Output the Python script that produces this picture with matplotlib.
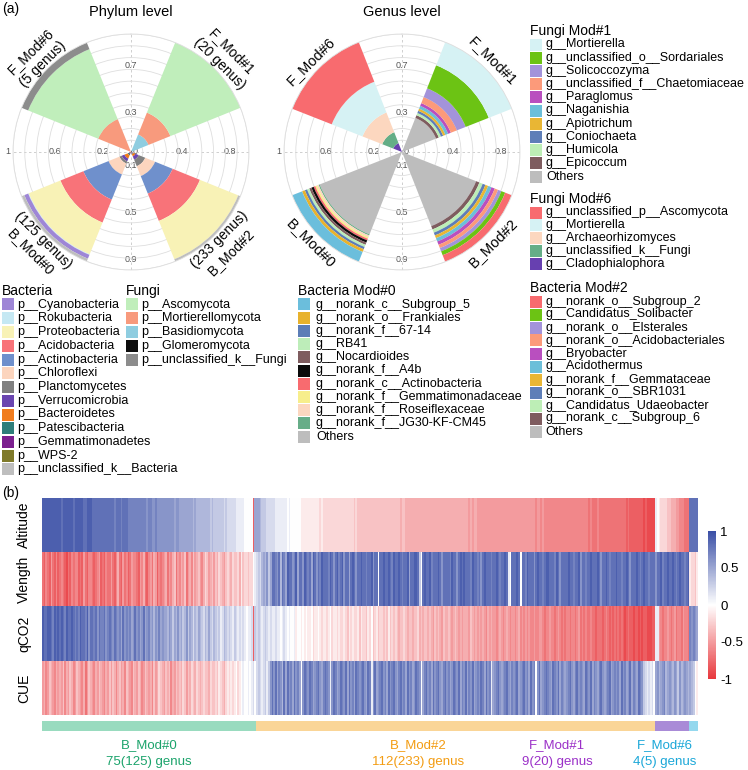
import numpy as np
import matplotlib
matplotlib.use("Agg")
import matplotlib.pyplot as plt
from matplotlib.patches import Rectangle
from matplotlib.colors import LinearSegmentedColormap

plt.rcParams["font.family"] = ["Liberation Sans", "DejaVu Sans"]

# ---------------- data: rose charts ----------------
modules = ["B_Mod#0", "B_Mod#2", "F_Mod#1", "F_Mod#6"]
module_angles = [225, 135, 45, 315]
module_genus = [125, 233, 20, 5]
module_kept = [75, 112, 9, 4]

# phylum proportions per module (B_Mod#0, B_Mod#2, F_Mod#1, F_Mod#6), legend order
bac_phyla = ["p__Cyanobacteria", "p__Rokubacteria", "p__Proteobacteria", "p__Acidobacteria",
             "p__Actinobacteria", "p__Chloroflexi", "p__Planctomycetes", "p__Verrucomicrobia",
             "p__Bacteroidetes", "p__Patescibacteria", "p__Gemmatimonadetes", "p__WPS-2",
             "p__unclassified_k__Bacteria"]
bac_colors = ["#9E86D6", "#C5E8F3", "#F8F2B6", "#F87379", "#6F90CC", "#FCD5BE", "#808080",
              "#6A45B0", "#F07C1E", "#2E7E7A", "#7B1F8F", "#7F7A2A", "#BEBEBE"]
bac_values = [
    [0.035, 0.0, 0, 0],
    [0.005, 0.0, 0, 0],
    [0.29, 0.35, 0, 0],
    [0.21, 0.25, 0, 0],
    [0.23, 0.16, 0, 0],
    [0.10, 0.09, 0, 0],
    [0.02, 0.06, 0, 0],
    [0.025, 0.03, 0, 0],
    [0.03, 0.02, 0, 0],
    [0.01, 0.005, 0, 0],
    [0.01, 0.01, 0, 0],
    [0.01, 0.005, 0, 0],
    [0.025, 0.02, 0, 0],
]
fun_phyla = ["p__Ascomycota", "p__Mortierellomycota", "p__Basidiomycota", "p__Glomeromycota",
             "p__unclassified_k__Fungi"]
fun_colors = ["#C0EEBB", "#F89A7D", "#8FCDE0", "#0D0D0D", "#8C8C8C"]
fun_values = [
    [0, 0, 0.64, 0.64],
    [0, 0, 0.20, 0.30],
    [0, 0, 0.15, 0.0],
    [0, 0, 0.01, 0.0],
    [0, 0, 0.0, 0.06],
]

# genus level (legend order, first = outermost)
f1_genus = ["g__Mortierella", "g__unclassified_o__Sordariales", "g__Solicoccozyma",
            "g__unclassified_f__Chaetomiaceae", "g__Paraglomus", "g__Naganishia",
            "g__Apiotrichum", "g__Coniochaeta", "g__Humicola", "g__Epicoccum", "Others"]
f1_colors = ["#D6F2F4", "#6CC314", "#A393DA", "#FC9A7A", "#B94FBF", "#6CBFD9", "#E9B634",
             "#5E7EB8", "#BDEEB6", "#7E5C5F", "#BDBDBD"]
f1_values = [0.21, 0.21, 0.08, 0.055, 0.025, 0.025, 0.02, 0.02, 0.02, 0.025, 0.31]

f6_genus = ["g__unclassified_p__Ascomycota", "g__Mortierella", "g__Archaeorhizomyces",
            "g__unclassified_k__Fungi", "g__Cladophialophora"]
f6_colors = ["#F86B6F", "#D6F2F4", "#FCD7BF", "#65AE87", "#6740B0"]
f6_values = [0.36, 0.28, 0.18, 0.10, 0.08]

b0_genus = ["g__norank_c__Subgroup_5", "g__norank_o__Frankiales", "g__norank_f__67-14",
            "g__RB41", "g__Nocardioides", "g__norank_f__A4b", "g__norank_c__Actinobacteria",
            "g__norank_f__Gemmatimonadaceae", "g__norank_f__Roseiflexaceae",
            "g__norank_f__JG30-KF-CM45", "Others"]
b0_colors = ["#6BBEDC", "#E8B22C", "#5C7DB7", "#BDEDB9", "#7E5C5F", "#0B0B0B", "#F86B6F",
             "#F7EE8C", "#FCD7C0", "#67AD88", "#BDBDBD"]
b0_values = [0.09, 0.025, 0.02, 0.02, 0.02, 0.02, 0.015, 0.015, 0.015, 0.01, 0.75]

b2_genus = ["g__norank_o__Subgroup_2", "g__Candidatus_Solibacter", "g__norank_o__Elsterales",
            "g__norank_o__Acidobacteriales", "g__Bryobacter", "g__Acidothermus",
            "g__norank_f__Gemmataceae", "g__norank_o__SBR1031", "g__Candidatus_Udaeobacter",
            "g__norank_c__Subgroup_6", "Others"]
b2_colors = ["#F86B6F", "#6CC314", "#A393DA", "#FC9A7A", "#B94FBF", "#6CBFD9", "#E9B634",
             "#5E7EB8", "#BDEEB6", "#7E5C5F", "#BDBDBD"]
b2_values = [0.06, 0.035, 0.03, 0.03, 0.03, 0.03, 0.025, 0.025, 0.03, 0.03, 0.675]

# ---------------- data: heatmap (one letter per genus, a=-1.0 ... k=0 ... u=+1.0) ----------------
heat_rows = ["Altitude", "Vlength", "qCO2", "CUE"]
alt_b0 = ("tttttttttt tsttttttst ttttssttts ssssssssss ssrsssrsss "
          "rrrrrrrrrr rqrrqqrqqq qqqqqqqpqq ppppppppop oooooooono "
          "nnnnnnmnmm mmmlllllkk kkkcp")
alt_b2 = ("pponnnmmmm mlllllllkl kkkkkkjjjj jjjjjjjiji iiiiiiiiii "
          "iiiiiiihih hhhhhhhhhh hhhhhhhhhh hhhhghhggg gggggggggg "
          "gggggggggg gggggggggg ggggfgfggf ffffffffff ffffffffff "
          "ffffffffff fffeffefee eeeeeeeeee eeeeeeeeee eeeededdde "
          "dddddddddd ddddddcdcc ccccccbcbb bbb")
alt_f1 = "lkjiiiihhg ggffeeeddd"
alt_f6 = "sssss"
vl_b0 = ("dcedcfdcec dedcbdcede ecdcfdceed cdefcdcedd fdcegdcfde "
         "cdfeedcfeg dcefdgfced efgdfeghdf egfhdfgehf ghfegihfgh "
         "fhgihgfhih gihhigjhii hiikl")
vl_b2 = ("mnmopoqnps srqsosrpts sqrtpssqts rsptsqsrts ssrtsqstrs "
         "tqsspstsqs stssrsstqs sksstsstsr tsstsrsstp ssttsnksts "
         "strssstsqs sssrtssqst stsssrtssr sqstsssrss tsrsstslks "
         "sstskssrts ssqstssrst tsssrtsqss sstssrsstq ssrsstssst "
         "sqsstsrsss tssrsstsqs sstsrstssr sss")
vl_f1 = "qsstrsstss tsrstssrst"
vl_f6 = "jiihj"
q_b0 = ("tssttsrtst stsrtsstsr srtssrtqss rsqsrrsqrs rqsrqrpsqr "
        "qrpqsqrpqs pqrpqoqprp qppoqpnpoq opnoqnpomo nponmonpnm "
        "onmnlmonmn mlnmlmlmlk llmcn")
q_b2 = ("mnmlmnmlml lmllklmlkl kkljkkjkjk jjkijjkjij jijkijjiji "
        "ijihjijiij hjiihjikhi jhiihihjhi hihghhihgh hghhighghh "
        "ghgfhghgfh gghgfghgfg fgggfhgfgf gfgfegfgff efgfefgfef "
        "fefgefefef eefeeffede efeedefede deedeedefd ededdeddcd "
        "ddcdedcdcd cdcdcbcdcc bccbcbccbb bcc")
q_f1 = "llfedeefed efdeedfeed"
q_f6 = "rqrqp"
cue_b0 = ("fgefhgfegf gfhegfhgef hgfegdfhgf egfhgfegfh fhgeghfgeh "
          "gfehgfhgef hgfgehfgih gfhghegfhg hgihfhgihg ihghihhgih "
          "hihjihgiji jijkijklkk lklmk")
cue_b2 = ("mnmlmnlnqs qsprqospsq rpsqrpkqsr qsrpqrsqpr srqlqsrpqs "
          "rqspsqrpsr qrsqpsrlqs pqrsqrpsqr sqprsqrpsq rpqsrqkprs "
          "qrpsqrsqpr sqrpqsrqsp rqsprqspqr qsrpsqrlpq rsqpqrsqpr "
          "qrspqrsqrp sqrkqspqrs rqpsrqsprq pqrsqprsqr qpsrqsprqp "
          "rsqpqrspqr qrpsqrpqsp rqpsrqnmlm lmk")
cue_f1 = "pqopqropqp oqpnqopqpo"
cue_f6 = "ponkj"

mod_colors = ["#99DBBF", "#FAD597", "#A98BD7", "#94D8EE"]
mod_text_colors = ["#1BA36B", "#F39C12", "#9B30C8", "#1AA7D8"]

LEVELS = "abcdefghijklmnopqrstu"


def decode(*parts):
    s = "".join("".join(parts).split())
    return [(LEVELS.index(c) - 10) / 10 for c in s]


heat = np.array([
    decode(alt_b0, alt_b2, alt_f1, alt_f6),
    decode(vl_b0, vl_b2, vl_f1, vl_f6),
    decode(q_b0, q_b2, q_f1, q_f6),
    decode(cue_b0, cue_b2, cue_f1, cue_f6),
])
assert heat.shape[1] == sum(module_genus), heat.shape

# ---------------- figure ----------------
W, H = 748, 770
fig = plt.figure(figsize=(W / 100, H / 100), dpi=100)


def fx(x):
    return x / W


def fy(y):
    return 1 - y / H


def polar_axes(cx, cy, r):
    ax = fig.add_axes([fx(cx - r), fy(cy + r), 2 * r / W, 2 * r / H], projection="polar")
    ax.set_theta_zero_location("N")
    ax.set_theta_direction(-1)
    ax.set_ylim(0, 1)
    ax.set_xticks(np.deg2rad([0, 90, 180, 270]))
    ax.set_xticklabels([])
    ax.set_yticks(np.arange(0.1, 1.01, 0.1))
    ax.set_yticklabels([])
    ax.xaxis.grid(True, color="#C8C8C8", ls=(0, (3, 3)), lw=0.6)
    ax.yaxis.grid(True, color="#DEDEDE", ls="-", lw=0.6)
    ax.spines["polar"].set_color("#DEDEDE")
    ax.spines["polar"].set_linewidth(0.6)
    ax.set_axisbelow(True)
    for i in range(11):
        k = i % 4
        th = [90, 180, 270, 0][k]
        off = [(3, 0), (0, -1), (-3.5, 0), (0, 3)][k]
        ax.annotate(f"{i / 10:g}", xy=(np.deg2rad(th), i / 10), xytext=off,
                    textcoords="offset points", ha="center", va="center",
                    fontsize=6.5, color="#555555", annotation_clip=False, zorder=0.5)
    return ax


# --- phylum rose
axp = polar_axes(131, 152, 118)
theta = np.deg2rad(module_angles)
wid = np.deg2rad(46)
# draw inner->outer: reversed legend order, unclassified outermost
order_b = list(range(len(bac_phyla) - 2, -1, -1)) + [len(bac_phyla) - 1]
order_f = list(range(len(fun_phyla) - 2, -1, -1)) + [len(fun_phyla) - 1]
bottom = np.zeros(4)
for i in order_b:
    v = np.array(bac_values[i])
    axp.bar(theta, v, width=wid, bottom=bottom, color=bac_colors[i], linewidth=0)
    bottom += v
for i in order_f:
    v = np.array(fun_values[i])
    axp.bar(theta, v, width=wid, bottom=bottom, color=fun_colors[i], linewidth=0)
    bottom += v

phylum_labels = {
    "F_Mod#1": ("F_Mod#1\n(20 genus)", -45),
    "F_Mod#6": ("F_Mod#6\n(5 genus)", 45),
    "B_Mod#0": ("(125 genus)\nB_Mod#0", -45),
    "B_Mod#2": ("(233 genus)\nB_Mod#2", 45),
}
for m, ang in zip(modules, module_angles):
    txt, rot = phylum_labels[m]
    axp.text(np.deg2rad(ang), 1.13, txt, rotation=rot, rotation_mode="anchor",
             ha="center", va="center", fontsize=10, linespacing=1.3)

# --- genus rose
axg = polar_axes(402, 152, 118)
gwid = np.deg2rad(47)
genus_sets = {
    "B_Mod#0": (b0_values, b0_colors),
    "B_Mod#2": (b2_values, b2_colors),
    "F_Mod#1": (f1_values, f1_colors),
    "F_Mod#6": (f6_values, f6_colors),
}
for m, ang in zip(modules, module_angles):
    vals, cols = genus_sets[m]
    b = 0.0
    for v, c in zip(vals[::-1], cols[::-1]):
        axg.bar(np.deg2rad(ang), v, width=gwid, bottom=b, color=c, linewidth=0)
        b += v
    rot = -45 if ang in (45, 225) else 45
    axg.text(np.deg2rad(ang), 1.09, m, rotation=rot, rotation_mode="anchor",
             ha="center", va="center", fontsize=10.5)

fig.text(fx(2), fy(9), "(a)", fontsize=10, va="center")
fig.text(fx(131), fy(12), "Phylum level", fontsize=10.5, ha="center", va="center")
fig.text(fx(402), fy(12), "Genus level", fontsize=10.5, ha="center", va="center")


# --- legends
def draw_legend(x, y, title, labels, colors, step, tx):
    fig.text(fx(x), fy(y), title, fontsize=10, va="center")
    for i, (lab, col) in enumerate(zip(labels, colors)):
        yy = y + 13.5 + i * step
        fig.add_artist(Rectangle((fx(x), fy(yy + 6)), 12 / W, 12 / H, facecolor=col,
                                 edgecolor="none", transform=fig.transFigure))
        fig.text(fx(x + tx), fy(yy), lab, fontsize=9, va="center")


draw_legend(2, 291, "Bacteria", bac_phyla, bac_colors, 13.75, 15)
draw_legend(126, 291, "Fungi", fun_phyla, fun_colors, 13.75, 15)
draw_legend(298, 291, "Bacteria Mod#0", b0_genus, b0_colors, 13.2, 18)
draw_legend(530, 31, "Fungi Mod#1", f1_genus, f1_colors, 13.2, 16)
draw_legend(530, 199, "Fungi Mod#6", f6_genus, f6_colors, 12.9, 16)
draw_legend(530, 288, "Bacteria Mod#2", b2_genus, b2_colors, 13.0, 15)

# ---------------- heatmap ----------------
cmap = LinearSegmentedColormap.from_list("rwb", ["#E8383D", "#FFFFFF", "#3A4FA6"])
axh = fig.add_axes([fx(42), fy(715), fx(698) - fx(42), (715 - 498) / H])
im = axh.imshow(heat, aspect="auto", cmap=cmap, vmin=-1, vmax=1, interpolation="nearest")
axh.set_yticks(range(len(heat_rows)))
axh.set_yticklabels(heat_rows, rotation=90, va="center", fontsize=10)
axh.set_xticks([])
axh.tick_params(length=0, pad=8)
for s in axh.spines.values():
    s.set_visible(False)

axm = fig.add_axes([fx(42), fy(731), fx(698) - fx(42), 10 / H])
lefts = np.cumsum([0] + module_genus[:-1])
axm.barh(0, module_genus, left=lefts, height=1, color=mod_colors, linewidth=0)
axm.set_xlim(0, sum(module_genus))
axm.set_ylim(-0.5, 0.5)
axm.axis("off")

label_x = [149, 418, 557, 665]
for m, n_kept, n_all, x, c in zip(modules, module_kept, module_genus, label_x, mod_text_colors):
    fig.text(fx(x), fy(745), m, color=c, fontsize=9.5, ha="center", va="center")
    fig.text(fx(x), fy(762), f"{n_kept}({n_all}) genus", color=c, fontsize=9.5,
             ha="center", va="center")

fig.text(fx(2), fy(493), "(b)", fontsize=10, va="center")

cax = fig.add_axes([fx(708), fy(679), 8 / W, (679 - 531) / H])
cb = fig.colorbar(im, cax=cax, ticks=[1, 0.5, 0, -0.5, -1])
cb.outline.set_visible(False)
cb.ax.set_yticklabels(["1", "0.5", "0", "-0.5", "-1"])
cb.ax.tick_params(length=0, labelsize=9.5, pad=3)

fig.savefig("out.png", dpi=100)
